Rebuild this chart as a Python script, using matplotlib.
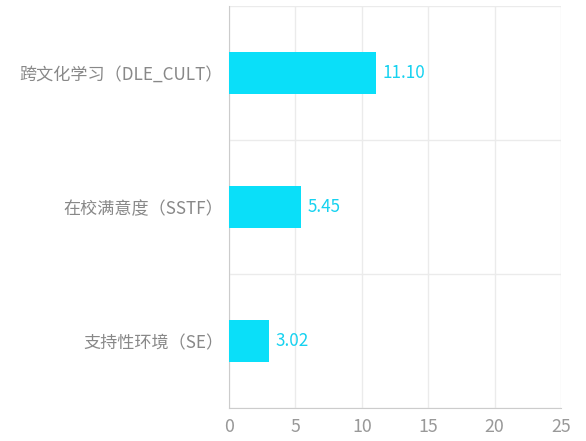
import matplotlib
matplotlib.use("Agg")
import matplotlib.pyplot as plt

plt.rcParams['font.family'] = ['Noto Sans CJK SC', 'DejaVu Sans']

categories = ["跨文化学习（DLE_CULT）", "在校满意度（SSTF）", "支持性环境（SE）"]
values = [11.10, 5.45, 3.02]
xticks = [0, 5, 10, 15, 20, 25]

fig = plt.figure(figsize=(5.86, 4.41), dpi=100)
ax = fig.add_axes([229/586, 1-408/441, (561-229)/586, (408-6)/441])

ypos = list(range(len(categories)))
ax.barh(ypos, values, height=0.31, color='#0ADFF9', zorder=3)
for y, v in zip(ypos, values):
    ax.text(v + 0.45, y, f"{v:.2f}", va='center', ha='left', color='#16D2F0',
            fontsize=12.3, zorder=4)

ax.set_xlim(0, 25)
ax.set_ylim(2.5, -0.5)
ax.set_xticks(xticks)
ax.set_xticklabels([str(t) for t in xticks])
ax.set_yticks(ypos)
ax.set_yticklabels(categories)
ax.set_yticks([-0.5, 0.5, 1.5, 2.5], minor=True)

ax.grid(axis='x', color='#ebebeb', linewidth=1, zorder=0)
ax.grid(axis='y', which='minor', color='#ebebeb', linewidth=1, zorder=0)
ax.grid(axis='y', which='major', visible=False)

for s in ['top', 'right']:
    ax.spines[s].set_visible(False)
ax.spines['left'].set_color('#cccccc')
ax.spines['bottom'].set_color('#cccccc')
ax.tick_params(axis='both', which='both', length=0)
ax.tick_params(axis='y', pad=4.3, labelsize=12.3, labelcolor='#888888')
ax.tick_params(axis='x', pad=7.5, labelsize=12.8, labelcolor='#999999')

fig.savefig('out.png', dpi=100)
